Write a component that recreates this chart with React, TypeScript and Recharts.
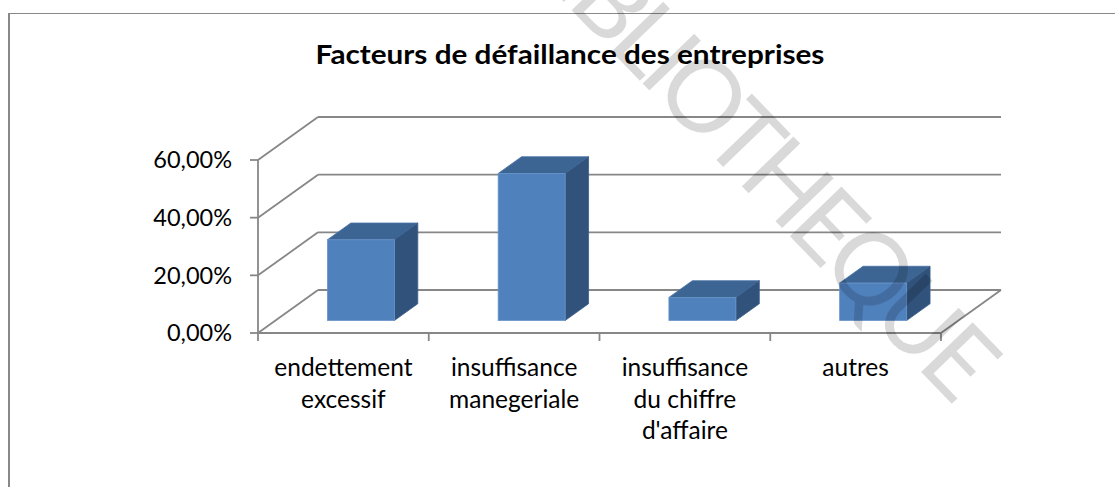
import React from "react";
import { BarChart, Bar, XAxis, YAxis, CartesianGrid } from "recharts";

const TITLE = "Facteurs de défaillance des entreprises";
const CATEGORIES = [
  "endettement excessif",
  "insuffisance manegeriale",
  "insuffisance du chiffre d'affaire",
  "autres",
];
const CATEGORY_LINES = [
  ["endettement", "excessif"],
  ["insuffisance", "manegeriale"],
  ["insuffisance", "du chiffre", "d'affaire"],
  ["autres"],
];
const VALUES = [0.28, 0.51, 0.08, 0.13];
const Y_TICKS = [0, 0.2, 0.4, 0.6];
const WATERMARK = "BIBLIOTHEQUE";

const data = CATEGORIES.map((name, i) => ({ name, value: VALUES[i] }));

const W = 1115;
const H = 487;
const PLOT_BOTTOM = 333;
// oblique depth of the 3D box (back wall offset)
const DEPTH_X = 60;
const DEPTH_Y = -43;
const BAR_FRONT = 0.29;
const BAR_BACK = 0.68;
const GRAY = "#878787";
const FONT = "Lato, 'Open Sans', sans-serif";

const formatPct = (v: number) => (v * 100).toFixed(2).replace(".", ",") + "%";

const Bar3D = (props: any) => {
  const { x, y, width, height } = props;
  if (!height) return null;
  const fx = x + DEPTH_X * BAR_FRONT;
  const fy = y + DEPTH_Y * BAR_FRONT;
  const bx = x + DEPTH_X * BAR_BACK;
  const by = y + DEPTH_Y * BAR_BACK;
  return (
    <g>
      <polygon
        points={`${fx},${fy} ${fx + width},${fy} ${bx + width},${by} ${bx},${by}`}
        fill="#3C6593"
        stroke="#4A74A8"
        strokeWidth={0.8}
      />
      <polygon
        points={`${fx + width},${fy} ${bx + width},${by} ${bx + width},${by + height} ${fx + width},${fy + height}`}
        fill="#30527B"
        stroke="#3A5F8C"
        strokeWidth={0.8}
      />
      <rect x={fx} y={fy} width={width} height={height} fill="#4F81BD" stroke="#6A95C9" strokeWidth={0.8} />
    </g>
  );
};

// back wall gridlines + left wall diagonals (+ floor edge on the right)
const gridLine = (p: any) => {
  const { x1, y1, x2 } = p;
  const isFloor = Math.abs(y1 - PLOT_BOTTOM) < 1;
  return (
    <g key={`grid-${y1}`}>
      <line x1={x1} y1={y1} x2={x1 + DEPTH_X} y2={y1 + DEPTH_Y} stroke={GRAY} strokeWidth={1.8} />
      <line x1={x1 + DEPTH_X} y1={y1 + DEPTH_Y} x2={x2 + DEPTH_X} y2={y1 + DEPTH_Y} stroke={GRAY} strokeWidth={1.8} />
      {isFloor && (
        <line x1={x2} y1={y1} x2={x2 + DEPTH_X} y2={y1 + DEPTH_Y} stroke={GRAY} strokeWidth={1.8} />
      )}
    </g>
  );
};

const CategoryTick = (props: any) => {
  const { x, payload } = props;
  const idx = CATEGORIES.indexOf(payload.value);
  const half = payload.offset ?? 85;
  const lines = CATEGORY_LINES[idx] || [payload.value];
  return (
    <g>
      <line x1={x - half} y1={PLOT_BOTTOM} x2={x - half} y2={PLOT_BOTTOM + 8} stroke={GRAY} strokeWidth={1.8} />
      {idx === CATEGORIES.length - 1 && (
        <line x1={x + half} y1={PLOT_BOTTOM} x2={x + half} y2={PLOT_BOTTOM + 8} stroke={GRAY} strokeWidth={1.8} />
      )}
      <text x={x} y={PLOT_BOTTOM + 43} textAnchor="middle" fontSize={24.5} fontFamily={FONT} fill="#000">
        {lines.map((l, i) => (
          <tspan key={i} x={x} dy={i === 0 ? 0 : 31.5}>
            {l}
          </tspan>
        ))}
      </text>
    </g>
  );
};

export default function App() {
  return (
    <div
      style={{
        position: "absolute",
        left: 0,
        top: 0,
        width: W,
        height: H,
        overflow: "hidden",
        background: "#fff",
      }}
    >
      {/* chart frame, right and bottom edges fall outside the picture */}
      <div
        style={{
          position: "absolute",
          left: 8,
          top: 13,
          width: 1200,
          height: 600,
          borderLeft: "2px solid #888",
          borderTop: "1px solid #888",
        }}
      />
      <div
        style={{
          position: "absolute",
          left: 570,
          top: 40,
          transform: "translateX(-50%) scaleX(1.1)",
          whiteSpace: "nowrap",
          fontFamily: FONT,
          fontWeight: 700,
          fontSize: 27,
          lineHeight: 1,
          color: "#000",
        }}
      >
        {TITLE}
      </div>
      <div style={{ position: "absolute", left: 0, top: 0 }}>
        <BarChart width={W} height={H} data={data} margin={{ top: 160, right: 174, left: 158, bottom: 54 }}>
          <CartesianGrid horizontal={gridLine} vertical={false} />
          <XAxis
            dataKey="name"
            interval={0}
            height={100}
            tickLine={false}
            axisLine={{ stroke: GRAY, strokeWidth: 1.8 }}
            tick={CategoryTick}
          />
          <YAxis
            domain={[0, 0.6]}
            ticks={Y_TICKS}
            width={100}
            tickFormatter={formatPct}
            tickSize={8}
            tickMargin={18}
            tickLine={{ stroke: GRAY, strokeWidth: 1.8 }}
            axisLine={{ stroke: GRAY, strokeWidth: 1.8 }}
            tick={{ fontSize: 23.5, fill: "#000", fontFamily: FONT }}
          />
          <Bar dataKey="value" barSize={67} shape={Bar3D} isAnimationActive={false} />
        </BarChart>
      </div>
      {/* watermark */}
      <svg width={W} height={H} style={{ position: "absolute", left: 0, top: 0, pointerEvents: "none" }}>
        <text
          x={950}
          y={402}
          transform="rotate(46 950 402)"
          textAnchor="end"
          fontSize={100}
          fontFamily={FONT}
          fontWeight={400}
          letterSpacing={-7}
          fill="#000"
          fillOpacity={0.15}
        >
          {WATERMARK}
        </text>
      </svg>
    </div>
  );
}
